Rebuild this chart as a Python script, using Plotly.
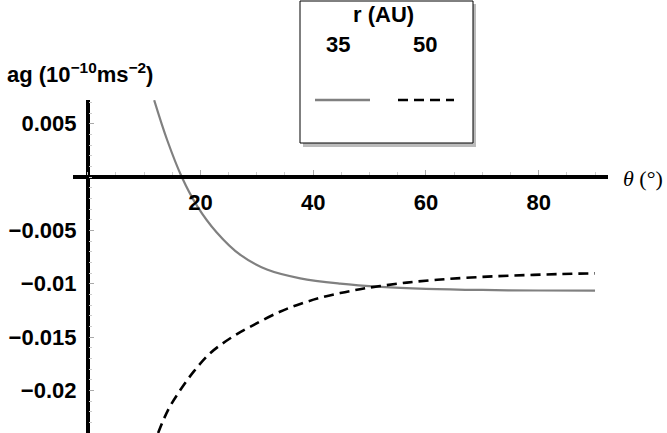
import plotly.graph_objects as go

# gray solid curve, r = 35 AU
theta_35 = [11.8, 14.1, 16.7, 19.4, 22.9, 27.1, 31.8, 37.7, 44.8, 52.0, 60.0, 70.0, 80.0, 90.0]
ag_35 = [0.0072, 0.00347, 0.0, -0.0027, -0.0052, -0.00731, -0.00868, -0.00950, -0.01000,
         -0.01030, -0.01048, -0.01059, -0.01064, -0.01066]

# black dashed curve, r = 50 AU
theta_50 = [12.5, 14.3, 16.4, 18.8, 21.7, 25.3, 29.4, 34.1, 37.7, 41.2, 44.8, 48.3,
            51.9, 56.6, 62.0, 68.0, 75.0, 83.8, 90.0]
ag_50 = [-0.0240, -0.0218, -0.0200, -0.01825, -0.01653, -0.01512, -0.01388, -0.01263,
         -0.01190, -0.01133, -0.01088, -0.01052, -0.01022, -0.00990, -0.00963, -0.00942,
         -0.00925, -0.00910, -0.00903]

x_ticks = [20, 40, 60, 80]
y_ticks = [0.005, -0.005, -0.01, -0.015, -0.02]
y_ticktext = ["0.005", "\u22120.005", "\u22120.01", "\u22120.015", "\u22120.02"]

W, H = 667, 433
x_range = [-2.6, 92.3]
y_range = [-0.0240, 0.00722]
x_dom = [73 / W, 608 / W]
y_dom = [0, 333 / H]

# where the axes cross (paper coords)
x_axis_pos = y_dom[0] + (0 - y_range[0]) / (y_range[1] - y_range[0]) * (y_dom[1] - y_dom[0])
y_axis_pos = x_dom[0] + (0 - x_range[0]) / (x_range[1] - x_range[0]) * (x_dom[1] - x_dom[0])

def px(x):
    return x / W

def py(y):
    return 1 - y / H

FONT = "Liberation Sans"

fig = go.Figure()
fig.add_trace(go.Scatter(x=theta_35, y=ag_35, mode="lines", name="35",
                         line=dict(color="#808080", width=2.2, shape="spline", smoothing=1)))
fig.add_trace(go.Scatter(x=theta_50, y=ag_50, mode="lines", name="50",
                         line=dict(color="black", width=2.6, dash="10px,6px",
                                   shape="spline", smoothing=1)))

axis_common = dict(showline=True, linecolor="black", linewidth=3.5, showgrid=False,
                   zeroline=False, ticks="inside", ticklen=5, tickwidth=1,
                   tickcolor="#aaaaaa", anchor="free",
                   tickfont=dict(family=FONT, size=22, color="black", weight="bold"))

fig.update_layout(
    width=W, height=H,
    margin=dict(l=0, r=0, t=0, b=0),
    paper_bgcolor="white", plot_bgcolor="white",
    showlegend=False,
    xaxis=dict(axis_common, range=x_range, domain=x_dom, position=x_axis_pos,
               tickvals=x_ticks, ticklabelstandoff=5,
               minor=dict(dtick=5, tick0=0, ticks="inside", ticklen=3,
                          tickcolor="#cccccc", tickwidth=1)),
    yaxis=dict(axis_common, range=y_range, domain=y_dom, position=y_axis_pos,
               tickvals=y_ticks, ticktext=y_ticktext, ticklabelstandoff=5,
               minor=dict(dtick=0.001, tick0=0, ticks="inside", ticklen=3,
                          tickcolor="#cccccc", tickwidth=1)),
)

# axis labels
fig.add_annotation(xref="paper", yref="paper", x=px(5), y=py(73), xanchor="left",
                   yanchor="middle", showarrow=False,
                   text="ag (10<sup>\u221210</sup>ms<sup>\u22122</sup>)",
                   font=dict(family=FONT, size=22, color="black", weight="bold"))
fig.add_annotation(xref="paper", yref="paper", x=px(621), y=py(178), xanchor="left",
                   yanchor="middle", showarrow=False,
                   text="<i>\u03b8</i> (\u00b0)",
                   font=dict(family="Liberation Serif", size=22, color="black"))

# legend box with drop shadow
fig.add_shape(type="rect", xref="paper", yref="paper",
              x0=px(303), x1=px(476), y0=py(147), y1=py(4),
              fillcolor="#bbbbbb", line=dict(width=0), layer="above")
fig.add_shape(type="rect", xref="paper", yref="paper",
              x0=px(300), x1=px(473), y0=py(143), y1=py(1),
              fillcolor="white", line=dict(color="black", width=1), layer="above")
fig.add_shape(type="line", xref="paper", yref="paper",
              x0=px(315), x1=px(370), y0=py(100), y1=py(100),
              line=dict(color="#808080", width=2.5), layer="above")
fig.add_shape(type="line", xref="paper", yref="paper",
              x0=px(398), x1=px(454), y0=py(100), y1=py(100),
              line=dict(color="black", width=2.6, dash="10px,6px"), layer="above")
for txt, x, y in [("r (AU)", 384, 15), ("35", 338, 45), ("50", 425, 45)]:
    fig.add_annotation(xref="paper", yref="paper", x=px(x), y=py(y), xanchor="center",
                       yanchor="middle", showarrow=False, text=txt,
                       font=dict(family=FONT, size=22, color="black", weight="bold"))

# drop the page's default body margin so the figure sits at the window corner
fig.write_html("out.html", config={"displayModeBar": False},
               post_script="document.body.style.margin='0px';")
